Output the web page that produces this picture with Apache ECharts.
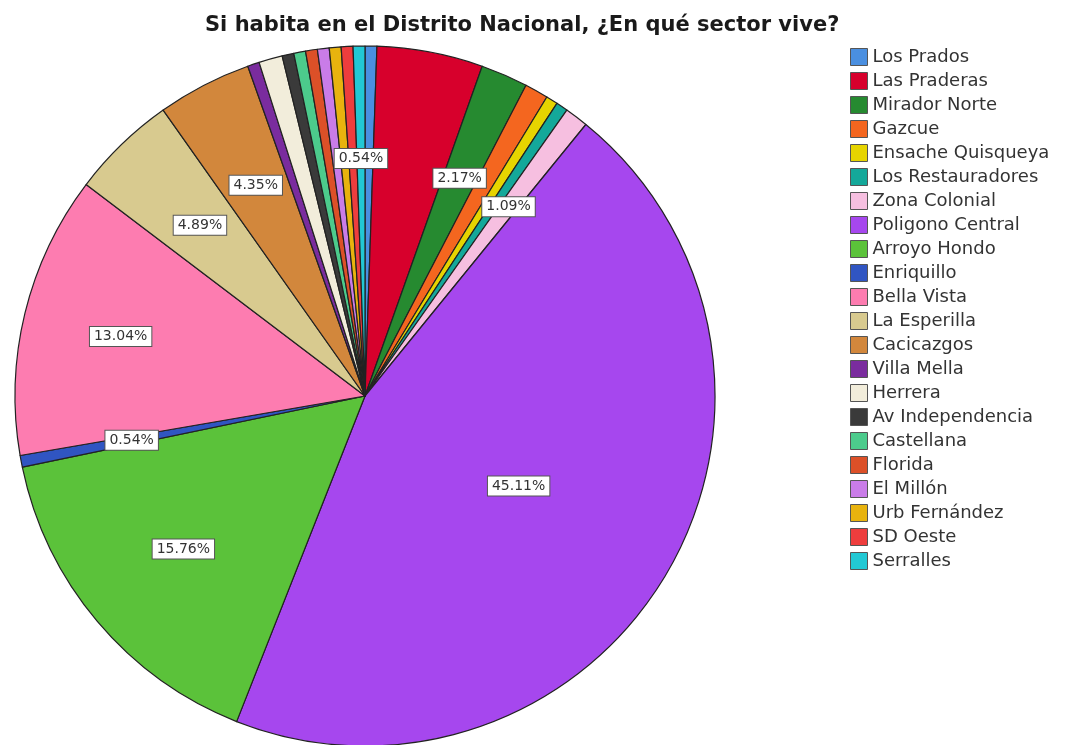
<!DOCTYPE html>
<html>
<head>
<meta charset="utf-8">
<title>Sector de residencia</title>
<script src="https://cdn.jsdelivr.net/npm/echarts@6/dist/echarts.min.js"></script>
<style>
  html, body { margin: 0; padding: 0; background: #ffffff; }
  #chart { width: 1074px; height: 745px; }
</style>
</head>
<body>
<div id="chart"></div>
<script>
// Sectors in drawing order (clockwise from 12 o'clock)
const sectors = [
  'Los Prados', 'Las Praderas', 'Mirador Norte', 'Gazcue', 'Ensache Quisqueya',
  'Los Restauradores', 'Zona Colonial', 'Poligono Central', 'Arroyo Hondo',
  'Enriquillo', 'Bella Vista', 'La Esperilla', 'Cacicazgos', 'Villa Mella',
  'Herrera', 'Av Independencia', 'Castellana', 'Florida', 'El Millón',
  'Urb Fernández', 'SD Oeste', 'Serralles'
];

// Respondent counts per sector (n = 184)
const counts = [1, 9, 4, 2, 1, 1, 2, 83, 29, 1, 24, 9, 8, 1, 2, 1, 1, 1, 1, 1, 1, 1];

const sectorColors = [
  '#4a8fe0', '#d7002c', '#268a30', '#f4661f', '#e6d400',
  '#14a89a', '#f6bfe0', '#a647ee', '#5bc23a',
  '#3055c2', '#fd7cb0', '#d8ca8f', '#d2873c', '#7a2c9e',
  '#f2eddb', '#3a3a3a', '#4ccb8c', '#dc5028', '#c97ce8',
  '#e8b30e', '#ee3d3d', '#22c8d4'
];

// Sectors whose share is printed on the pie, and how far out the label sits (fraction of radius)
const labelRing = {
  'Poligono Central': 0.49,
  'Bella Vista': 0.71,
  'Mirador Norte': 0.67,
  'Zona Colonial': 0.67,
  'Arroyo Hondo': 0.67,
  'Enriquillo': 0.67,
  'La Esperilla': 0.67,
  'Cacicazgos': 0.67,
  'Herrera': 0.67,
  'Serralles': 0.67
};

const total = counts.reduce((a, b) => a + b, 0);
const R = 350;
const center = [365, 396];

// Each share is printed on its own, rounded to two decimals
const pct = p => (p.value / total * 100).toFixed(2) + '%';

const labelBox = {
  position: 'inside',
  formatter: pct,
  fontFamily: 'DejaVu Sans',
  fontSize: 14,
  color: '#333333',
  backgroundColor: '#ffffff',
  borderColor: '#555555',
  borderWidth: 1,
  padding: [3, 4, 2, 4]
};

const series = [{
  type: 'pie',
  name: 'sectores',
  center: center,
  radius: [0, R],
  startAngle: 90,
  clockwise: true,
  avoidLabelOverlap: false,
  label: { show: false },
  labelLine: { show: false },
  emphasis: { disabled: true },
  itemStyle: { borderColor: '#222222', borderWidth: 1.2 },
  data: sectors.map((name, i) => ({
    name,
    value: counts[i],
    itemStyle: { color: sectorColors[i] }
  }))
}];

// One transparent ring per label distance; the inside label sits at the ring's mid radius
const rings = [...new Set(Object.values(labelRing))];
rings.forEach(f => {
  const inner = Math.max(0, 2 * f * R - R);
  series.push({
    type: 'pie',
    center: center,
    radius: [inner, R],
    startAngle: 90,
    clockwise: true,
    silent: true,
    avoidLabelOverlap: false,
    emphasis: { disabled: true },
    labelLine: { show: false },
    itemStyle: { color: 'rgba(0,0,0,0)', borderWidth: 0 },
    label: Object.assign({ show: false }, labelBox),
    data: sectors.map((name, i) => ({
      name,
      value: counts[i],
      label: { show: labelRing[name] === f }
    }))
  });
});

const chart = echarts.init(document.getElementById('chart'), null, { renderer: 'canvas' });
chart.setOption({
  backgroundColor: '#ffffff',
  animation: false,
  title: {
    text: 'Si habita en el Distrito Nacional, ¿En qué sector vive?',
    left: 200,
    top: 10,
    textStyle: {
      fontFamily: 'DejaVu Sans',
      fontWeight: 'bold',
      fontSize: 21,
      color: '#1a1a1a'
    }
  },
  legend: {
    orient: 'vertical',
    left: 845,
    top: 43,
    itemWidth: 17,
    itemHeight: 17,
    itemGap: 6,
    icon: 'rect',
    selectedMode: false,
    itemStyle: { borderColor: '#555555', borderWidth: 1 },
    textStyle: {
      fontFamily: 'DejaVu Sans',
      fontSize: 18,
      lineHeight: 18,
      color: '#333333',
      padding: [0, 0, 0, 0]
    },
    data: sectors.map((name, i) => ({
      name,
      itemStyle: { color: sectorColors[i], borderColor: '#555555', borderWidth: 1 }
    }))
  },
  series: series
});
</script>
</body>
</html>
